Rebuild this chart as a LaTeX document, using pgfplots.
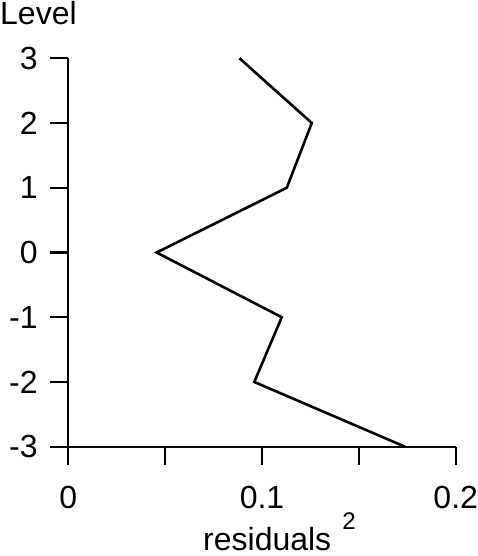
\documentclass[border=0pt]{standalone}
\usepackage{fontspec}
\setmainfont{Liberation Sans}
\usepackage{pgfplots}
\pgfplotsset{compat=1.18}

\begin{document}
\begin{tikzpicture}
\begin{axis}[
    name=ax,
    scale only axis,
    width=387.4pt, height=388.4pt,
    xmin=0, xmax=0.2,
    ymin=-3, ymax=3,
    clip=false,
    axis x line*=bottom,
    axis y line*=left,
    axis line style={line width=2.2pt},
    tick align=outside,
    major tick length=18.5pt,
    tick style={line width=2.2pt, black},
    xtick={0,0.05,0.1,0.15,0.2},
    xticklabels={0,,0.1,,0.2},
    ytick={-3,-2,-1,0,1,2,3},
    yticklabels={-3,-2,-1,0,1,2,3},
    tick label style={font=\fontsize{32}{32}\selectfont},
    xticklabel style={anchor=north, inner sep=0pt, yshift=-21pt},
    yticklabel style={anchor=east, inner sep=0pt, xshift=-12pt},
    xlabel={residuals\hspace{11pt}\raisebox{21pt}{\fontsize{24}{24}\selectfont 2}},
    xlabel style={at={(rel axis cs:0.3477,-0.2680)}, anchor=base west, inner sep=0pt,
        font=\fontsize{32}{32}\selectfont},
    ylabel={Level},
    ylabel style={at={(rel axis cs:0,1)}, anchor=base west, rotate=-90, inner sep=0pt,
        xshift=-68.3pt, yshift=33.3pt, font=\fontsize{32}{32}\selectfont},
]
\addplot[black, line width=2.6pt, mark=none] coordinates {
    (0.0884,3) (0.1257,2) (0.1128,1) (0.0456,0)
    (0.1102,-1) (0.0960,-2) (0.1738,-3)
};
\end{axis}
\path[use as bounding box]
    ([xshift=-68.3pt, yshift=-109.3pt]ax.south west)
    rectangle ([xshift=19.3pt, yshift=58.3pt]ax.north east);
\end{tikzpicture}
\end{document}
